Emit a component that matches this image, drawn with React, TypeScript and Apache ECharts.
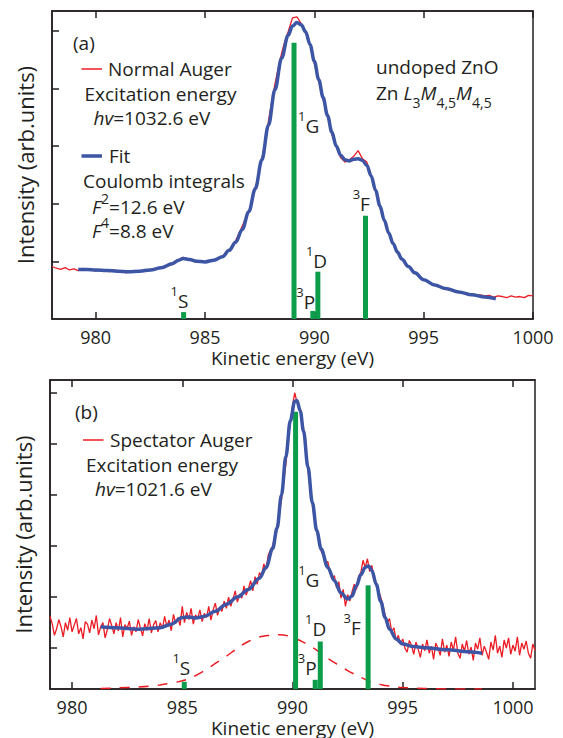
import React, { useEffect, useRef } from 'react';
import * as echarts from 'echarts';

// ---------- data ----------
const xTicks = [980, 985, 990, 995, 1000];
const yTicksA = [1, 2, 3, 4, 5];
const yTicksB = [0.805, 1.805, 2.805, 3.805, 4.805, 5.805];

// (a) Normal Auger, sampled every 0.2 eV from 978.0 eV
const normalAugerStart = 978.0;
const normalAugerStep = 0.2;
const normalAuger = [
  0.91, 0.88, 0.86, 0.89, 0.85, 0.87, 0.84, 0.88, 0.85, 0.87,
  0.83, 0.86, 0.84, 0.82, 0.85, 0.81, 0.84, 0.80, 0.83, 0.81,
  0.84, 0.82, 0.86, 0.85, 0.88, 0.90, 0.92, 0.95, 0.99, 1.03,
  1.07, 1.04, 1.03, 1.00, 1.01, 0.98, 1.01, 1.02, 1.06, 1.09,
  1.16, 1.24, 1.36, 1.52, 1.70, 1.86, 2.12, 2.42, 2.78, 3.20,
  3.66, 4.08, 4.45, 4.75, 4.98, 5.22, 5.24, 5.12, 4.98, 4.76,
  4.43, 4.12, 3.80, 3.55, 3.20, 2.99, 2.80, 2.72, 2.76, 2.82,
  2.92, 2.78, 2.72, 2.48, 2.22, 1.93, 1.69, 1.48, 1.31, 1.14,
  1.03, 0.95, 0.87, 0.80, 0.73, 0.68, 0.64, 0.60, 0.58, 0.55,
  0.53, 0.50, 0.49, 0.46, 0.45, 0.43, 0.44, 0.41, 0.42, 0.40,
  0.41, 0.38, 0.40, 0.39, 0.37, 0.40, 0.38, 0.39, 0.37, 0.41,
  0.40,
];

// (a) Fit
const fitAX = [
  979.2, 979.6, 980.0, 980.5, 981.0, 981.5, 982.0, 982.5, 983.0, 983.5, 983.8, 984.0,
  984.3, 984.6, 985.0, 985.4, 985.8, 986.1, 986.4, 986.7, 987.0, 987.3, 987.6, 987.9,
  988.2, 988.5, 988.8, 989.0, 989.2, 989.4, 989.6, 989.8, 990.0, 990.2, 990.4, 990.6,
  990.8, 991.0, 991.2, 991.4, 991.6, 991.8, 992.0, 992.2, 992.4, 992.6, 992.8, 993.0,
  993.2, 993.4, 993.6, 993.8, 994.0, 994.3, 994.6, 995.0, 995.5, 996.0, 996.6, 997.2,
  997.8, 998.3,
];
const fitAY = [
  0.86, 0.86, 0.85, 0.84, 0.83, 0.82, 0.83, 0.85, 0.89, 0.96, 1.02, 1.05,
  1.03, 1.00, 0.99, 1.02, 1.08, 1.19, 1.33, 1.55, 1.86, 2.26, 2.76, 3.36,
  3.98, 4.52, 4.92, 5.08, 5.14, 5.10, 4.98, 4.76, 4.47, 4.15, 3.84, 3.53,
  3.24, 3.00, 2.84, 2.76, 2.74, 2.77, 2.78, 2.75, 2.66, 2.48, 2.23, 1.96,
  1.71, 1.49, 1.31, 1.16, 1.04, 0.91, 0.80, 0.68, 0.59, 0.53, 0.47, 0.42,
  0.38, 0.35,
];

// stick spectra (multiplet terms)
const termNames = ['1S', '1G', '3P', '1D', '3F'];
const stickAX = [984.02, 989.07, 989.93, 990.16, 992.34];
const stickAH = [0.12, 4.79, 0.14, 0.82, 1.79];
const termLabelAX = [983.85, 989.76, 989.63, 990.12, 992.17];
const termLabelAY = [0.31, 3.33, 0.29, 0.99, 1.98];

// (b) Spectator Auger, sampled every 0.1 eV from 979.0 eV
const spectatorStart = 979.0;
const spectatorStep = 0.1;
const spectatorAuger = [
  1.42, 1.28, 1.05, 1.18, 1.36, 1.22, 1.02, 1.30, 1.15, 1.40,
  1.12, 1.25, 1.38, 1.08, 1.20, 0.98, 1.32, 1.27, 1.10, 1.35,
  1.18, 1.44, 1.06, 1.22, 1.30, 1.00, 1.16, 1.38, 1.24, 1.08,
  1.30, 1.14, 1.40, 1.02, 1.26, 1.19, 1.33, 1.05, 1.22, 1.12,
  1.36, 1.20, 1.04, 1.28, 1.15, 1.38, 1.10, 1.26, 1.34, 1.12,
  1.30, 1.18, 1.42, 1.22, 1.35, 1.14, 1.46, 1.28, 1.40, 1.24,
  1.62, 1.30, 1.50, 1.36, 1.58, 1.27, 1.45, 1.38, 1.55, 1.32,
  1.48, 1.40, 1.62, 1.35, 1.55, 1.68, 1.44, 1.60, 1.52, 1.72,
  1.58, 1.80, 1.62, 1.76, 1.92, 1.70, 1.86, 1.78, 2.02, 1.84,
  1.96, 2.12, 1.92, 2.20, 2.05, 2.28, 2.22, 2.45, 2.34, 2.62,
  2.72, 2.80, 3.00, 3.12, 3.42, 3.70, 4.05, 4.40, 4.85, 5.20,
  5.55, 5.80, 5.62, 5.50, 5.36, 5.10, 4.70, 4.30, 3.90, 3.62,
  3.30, 3.12, 2.95, 2.70, 2.60, 2.42, 2.50, 2.28, 2.15, 2.22,
  1.98, 2.10, 1.78, 1.95, 1.62, 1.85, 1.72, 1.90, 2.05, 1.95,
  2.20, 2.28, 2.52, 2.38, 2.55, 2.30, 2.42, 2.15, 2.02, 1.92,
  1.80, 1.65, 1.45, 1.30, 1.38, 1.12, 1.20, 0.95, 1.05, 0.88,
  0.98, 0.80, 0.72, 0.95, 0.85, 0.68, 0.92, 0.78, 0.62, 0.88,
  0.75, 0.96, 0.70, 0.84, 0.58, 0.90, 0.80, 0.66, 0.98, 0.72,
  0.86, 0.64, 0.92, 0.76, 1.02, 0.70, 0.60, 0.88, 0.74, 0.95,
  0.68, 0.82, 0.56, 0.90, 0.78, 1.00, 0.66, 0.84, 0.72, 0.58,
  0.92, 0.76, 1.05, 0.70, 0.84, 0.62, 0.96, 0.80, 1.00, 0.68,
  0.86, 0.74, 1.02, 0.66, 0.90, 0.78, 0.94, 0.70, 0.60, 0.88,
  0.76,
];

// (b) Fit
const fitBX = [
  981.3, 982.0, 983.0, 984.0, 984.5, 985.0, 985.3, 985.6, 986.0, 986.5, 987.0, 987.5,
  988.0, 988.5, 988.8, 989.1, 989.3, 989.5, 989.7, 989.9, 990.1, 990.2, 990.35, 990.5,
  990.7, 990.9, 991.1, 991.3, 991.6, 991.9, 992.2, 992.5, 992.7, 992.9, 993.1, 993.3,
  993.45, 993.6, 993.8, 994.0, 994.2, 994.4, 994.7, 995.0, 995.5, 996.0, 997.0, 998.0,
  998.6,
];
const fitBY = [
  1.22, 1.20, 1.17, 1.20, 1.27, 1.40, 1.41, 1.39, 1.42, 1.52, 1.66, 1.80,
  1.95, 2.17, 2.38, 2.75, 3.15, 3.80, 4.55, 5.25, 5.63, 5.65, 5.45, 5.05,
  4.35, 3.65, 3.10, 2.74, 2.38, 2.12, 1.88, 1.76, 1.82, 2.02, 2.24, 2.38,
  2.41, 2.32, 2.05, 1.72, 1.40, 1.17, 0.98, 0.88, 0.83, 0.81, 0.77, 0.73,
  0.70,
];

// (b) spectator background (dashed)
const bgBX = [
  981.3, 982.0, 983.0, 984.0, 985.0, 985.5, 986.0, 986.5, 987.0, 987.5, 988.0, 988.5,
  989.0, 989.4, 989.8, 990.2, 990.6, 991.0, 991.5, 992.0, 992.5, 993.0, 993.5, 994.0,
  994.5, 995.0, 996.0, 997.0, 998.6,
];
const bgBY = [
  0.01, 0.02, 0.04, 0.08, 0.16, 0.24, 0.36, 0.50, 0.64, 0.80, 0.93, 1.02,
  1.05, 1.06, 1.04, 0.98, 0.89, 0.79, 0.63, 0.49, 0.36, 0.25, 0.15, 0.09,
  0.05, 0.03, 0.01, 0.0, 0.0,
];

const stickBX = [985.09, 990.14, 991.03, 991.26, 993.43];
const stickBH = [0.14, 5.43, 0.18, 0.93, 2.03];
const termLabelBX = [984.98, 990.76, 990.69, 991.07, 992.73];
const termLabelBY = [0.41, 2.13, 0.41, 1.16, 1.19];

// ---------- style ----------
const FONT = 'Open Sans';
const INK = '#231f20';
const RED = '#ec1c24';
const BLUE = '#3d55a5';
const GREEN = '#0c9d4a';

const sampled = (start: number, step: number, vals: number[]) =>
  vals.map((v, i) => [Number((start + i * step).toFixed(3)), v]);
const pairs = (xs: number[], ys: number[]) => xs.map((x, i) => [x, ys[i]]);

const termRich = {
  s: { fontSize: 13, fontFamily: FONT, color: INK, lineHeight: 13, verticalAlign: 'top' },
  m: { fontSize: 19, fontFamily: FONT, color: INK, lineHeight: 33 },
};

const textRich = {
  n: { fontSize: 19, fontFamily: FONT, fill: INK, color: INK, lineHeight: 32 },
  i: { fontSize: 19, fontFamily: FONT, fontStyle: 'italic', fill: INK, color: INK, lineHeight: 32 },
  sup: { fontSize: 14, fontFamily: FONT, fill: INK, color: INK, lineHeight: 14, verticalAlign: 'top' },
  sub: { fontSize: 14, fontFamily: FONT, fill: INK, color: INK, lineHeight: 14, verticalAlign: 'bottom' },
};

function xAxes(gridIndex: number, min: number, max: number) {
  const tick = {
    show: true,
    inside: true,
    length: 7,
    customValues: xTicks,
    lineStyle: { color: INK, width: 1.5 },
  };
  return [
    {
      type: 'value', gridIndex, min, max, position: 'bottom',
      axisLine: { show: true, lineStyle: { color: INK, width: 1.5 } },
      axisTick: tick,
      axisLabel: {
        show: true, customValues: xTicks, margin: 9, fontSize: 18, fontFamily: FONT, color: INK,
        formatter: (v: number) => String(v),
      },
      splitLine: { show: false },
      name: 'Kinetic energy (eV)', nameLocation: 'middle', nameGap: 29,
      nameTextStyle: { fontSize: 19, fontFamily: FONT, color: INK },
    },
    {
      type: 'value', gridIndex, min, max, position: 'top',
      axisLine: { show: true, lineStyle: { color: INK, width: 1.5 } },
      axisTick: tick,
      axisLabel: { show: false },
      splitLine: { show: false },
    },
  ];
}

function yAxis(gridIndex: number, max: number, ticks: number[]) {
  return {
    type: 'value', gridIndex, min: 0, max, position: 'left',
    axisLine: { show: true, lineStyle: { color: INK, width: 1.5 } },
    axisTick: { show: true, inside: true, length: 7, customValues: ticks, lineStyle: { color: INK, width: 1.5 } },
    axisLabel: { show: false, customValues: ticks },
    splitLine: { show: false },
    name: 'Intensity (arb.units)', nameLocation: 'middle', nameGap: 16,
    nameTextStyle: { fontSize: 22, fontFamily: FONT, color: INK },
  };
}

function panelSeries(
  xi: number, yi: number,
  expData: number[][], fit: number[][],
  sx: number[], sh: number[], lx: number[], ly: number[],
  bg?: number[][],
) {
  const out: any[] = [
    {
      type: 'line', xAxisIndex: xi, yAxisIndex: yi, data: expData, showSymbol: false,
      lineStyle: { color: RED, width: 1.3 }, z: 2,
    },
  ];
  if (bg) {
    out.push({
      type: 'line', xAxisIndex: xi, yAxisIndex: yi, data: bg, showSymbol: false, smooth: 0.3,
      lineStyle: { color: RED, width: 1.5, type: [10, 9] }, z: 2,
    });
  }
  out.push(
    {
      type: 'bar', xAxisIndex: xi, yAxisIndex: yi, barWidth: 5,
      data: pairs(sx, sh), itemStyle: { color: GREEN }, z: 3,
    },
    {
      type: 'line', xAxisIndex: xi, yAxisIndex: yi, data: fit, showSymbol: false,
      smooth: 0.35, smoothMonotone: 'x',
      lineStyle: { color: BLUE, width: 3.5 }, z: 4,
    },
    {
      type: 'scatter', xAxisIndex: xi, yAxisIndex: yi, symbolSize: 1,
      itemStyle: { color: '#ffffff', opacity: 0 }, z: 5,
      data: termNames.map((n, i) => ({ name: n, value: [lx[i], ly[i]] })),
      label: {
        show: true, position: [0, 0], align: 'center', verticalAlign: 'middle',
        color: INK, opacity: 1, textBorderWidth: 0,
        formatter: (p: any) => `{s|${p.name[0]}}{m|${p.name.slice(1)}}`,
        rich: termRich,
      },
    },
  );
  return out;
}

function txt(x: number, y: number, text: string) {
  return {
    type: 'text', x, y, z: 10,
    style: { text, rich: textRich, align: 'left', verticalAlign: 'middle', fill: INK, fontSize: 19, fontFamily: FONT },
  };
}
function seg(x1: number, x2: number, y: number, color: string, w: number) {
  return { type: 'line', z: 10, shape: { x1, y1: y, x2, y2: y }, style: { stroke: color, lineWidth: w } };
}

const option: any = {
  animation: false,
  backgroundColor: '#ffffff',
  grid: [
    { left: 52, top: 11, width: 481, height: 308, show: true, borderColor: INK, borderWidth: 1.5, backgroundColor: 'transparent' },
    { left: 50, top: 380, width: 485, height: 309, show: true, borderColor: INK, borderWidth: 1.5, backgroundColor: 'transparent' },
  ],
  xAxis: [...xAxes(0, 978, 1000), ...xAxes(1, 979, 1001)],
  yAxis: [yAxis(0, 5.34, yTicksA), yAxis(1, 6.05, yTicksB)],
  series: [
    ...panelSeries(0, 0, sampled(normalAugerStart, normalAugerStep, normalAuger), pairs(fitAX, fitAY),
      stickAX, stickAH, termLabelAX, termLabelAY),
    ...panelSeries(2, 1, sampled(spectatorStart, spectatorStep, spectatorAuger), pairs(fitBX, fitBY),
      stickBX, stickBH, termLabelBX, termLabelBY, pairs(bgBX, bgBY)),
  ],
  graphic: [
    txt(73, 43, '{n|(a)}'),
    seg(81.5, 102, 69, RED, 1.5),
    txt(108, 69, '{n|Normal Auger}'),
    txt(84.5, 94, '{n|Excitation energy}'),
    txt(93.5, 118, '{i|hv}{n|=1032.6 eV}'),
    seg(81.5, 102, 156, BLUE, 3.5),
    txt(109, 156, '{n|Fit}'),
    txt(83, 181, '{n|Coulomb integrals}'),
    txt(92, 207, '{i|F}{sup|2}{n|=12.6 eV}'),
    txt(92, 231, '{i|F}{sup|4}{n|=8.8 eV}'),
    txt(376, 66.5, '{n|undoped ZnO}'),
    txt(376, 93, '{n|Zn }{i|L}{sub|3}{i|M}{sub|4,5}{i|M}{sub|4,5}'),

    txt(75, 411.5, '{n|(b)}'),
    seg(83, 103.5, 440, RED, 1.5),
    txt(110, 440, '{n|Spectator Auger}'),
    txt(86, 465, '{n|Excitation energy}'),
    txt(95, 488.5, '{i|hv}{n|=1021.6 eV}'),
  ],
};

export default function App() {
  const ref = useRef<HTMLDivElement>(null);
  useEffect(() => {
    const chart = echarts.init(ref.current!, null, { renderer: 'svg' });
    chart.setOption(option);
    return () => chart.dispose();
  }, []);
  return (
    <div
      ref={ref}
      style={{ position: 'absolute', left: 0, top: 0, width: 563, height: 738, background: '#fff' }}
    />
  );
}
